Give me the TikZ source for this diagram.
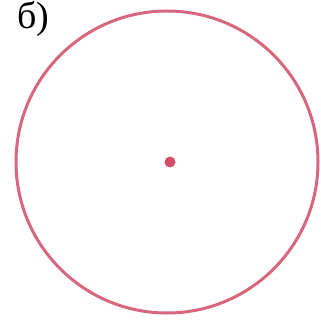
\documentclass[tikz,border=0pt]{standalone}
\usepackage{fontspec}
\setmainfont{Liberation Serif}
\definecolor{RingColor}{HTML}{D8667E}
\definecolor{DotColor}{HTML}{D4506A}

\begin{document}
\begin{tikzpicture}[x=1pt,y=-1pt]
  % ===== Parámetros =====
  \def\cx{167}
  \def\cy{162}
  \def\rad{151}

  \useasboundingbox (0,0) rectangle (320,320);

  % ===== Circunferencia y centro =====
  \node[circle,draw=RingColor,line width=3pt,minimum size={2*\rad*1pt},inner sep=0pt]
    (ring) at (\cx,\cy) {};
  \node[circle,fill=DotColor,minimum size=11pt,inner sep=0pt] (centre) at (170,162) {};

  % ===== Etiqueta =====
  \node[font=\fontsize{38}{38}\selectfont,anchor=north west,inner sep=0pt] (lbl) at (17,1) {б)};

\end{tikzpicture}
\end{document}
